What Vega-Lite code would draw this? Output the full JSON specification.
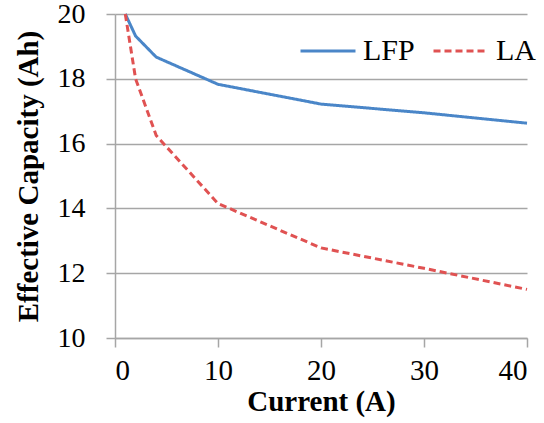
{
  "$schema": "https://vega.github.io/schema/vega-lite/v6.json",
  "width": 412,
  "height": 324,
  "autosize": {"type": "none"},
  "padding": {"left": 115, "top": 14, "right": 17, "bottom": 85},
  "background": "white",
  "config": {
    "view": {"stroke": null},
    "font": "Liberation Serif",
    "axis": {"labelFont": "Liberation Serif", "titleFont": "Liberation Serif"},
    "legend": {"labelFont": "Liberation Serif"}
  },
  "data": {
    "values": [
      {"current": 1, "capacity": 20.0, "series": "LFP"},
      {"current": 2, "capacity": 19.32, "series": "LFP"},
      {"current": 4, "capacity": 18.67, "series": "LFP"},
      {"current": 10, "capacity": 17.83, "series": "LFP"},
      {"current": 20, "capacity": 17.22, "series": "LFP"},
      {"current": 30, "capacity": 16.95, "series": "LFP"},
      {"current": 40, "capacity": 16.63, "series": "LFP"},
      {"current": 1, "capacity": 20.0, "series": "LA"},
      {"current": 2, "capacity": 18.0, "series": "LA"},
      {"current": 4, "capacity": 16.25, "series": "LA"},
      {"current": 10, "capacity": 14.15, "series": "LA"},
      {"current": 20, "capacity": 12.78, "series": "LA"},
      {"current": 30, "capacity": 12.15, "series": "LA"},
      {"current": 40, "capacity": 11.5, "series": "LA"}
    ]
  },
  "mark": {"type": "line", "strokeWidth": 3},
  "encoding": {
    "x": {
      "field": "current",
      "type": "quantitative",
      "scale": {"domain": [0, 40], "nice": false},
      "axis": {
        "values": [0, 10, 20, 30, 40],
        "title": "Current (A)",
        "titleFontSize": 29,
        "titleFontWeight": "bold",
        "titleColor": "black",
        "titlePadding": 2,
        "labelFontSize": 29,
        "labelColor": "black",
        "labelPadding": 9,
        "tickSize": 9,
        "tickColor": "#a6a6a6",
        "tickWidth": 1.5,
        "domainColor": "#a6a6a6",
        "domainWidth": 1.5,
        "grid": false
      }
    },
    "y": {
      "field": "capacity",
      "type": "quantitative",
      "scale": {"domain": [10, 20], "nice": false, "zero": false},
      "axis": {
        "values": [10, 12, 14, 16, 18, 20],
        "title": "Effective Capacity (Ah)",
        "titleFontSize": 29,
        "titleFontWeight": "bold",
        "titleColor": "black",
        "titlePadding": 14,
        "labelFontSize": 28,
        "labelColor": "black",
        "labelPadding": 21,
        "tickSize": 9,
        "tickColor": "#a6a6a6",
        "tickWidth": 1.5,
        "domainColor": "#a6a6a6",
        "domainWidth": 1.5,
        "grid": true,
        "gridColor": "#a6a6a6",
        "gridWidth": 1.5
      }
    },
    "color": {
      "field": "series",
      "type": "nominal",
      "scale": {"domain": ["LFP", "LA"], "range": ["#4a86c8", "#e05252"]},
      "legend": {
        "title": null,
        "orient": "none",
        "direction": "horizontal",
        "legendX": 184,
        "legendY": 8,
        "symbolType": "stroke",
        "symbolSize": 3025,
        "symbolStrokeWidth": 3,
        "labelFontSize": 30,
        "labelColor": "black",
        "labelOffset": 6,
        "columnPadding": 12
      }
    },
    "strokeDash": {
      "field": "series",
      "type": "nominal",
      "scale": {"domain": ["LFP", "LA"], "range": [[1, 0], [7, 4]]},
      "legend": {
        "title": null,
        "orient": "none",
        "direction": "horizontal",
        "legendX": 184,
        "legendY": 8,
        "symbolType": "stroke",
        "symbolSize": 3025,
        "symbolStrokeWidth": 3,
        "labelFontSize": 30,
        "labelColor": "black",
        "labelOffset": 6,
        "columnPadding": 12
      }
    }
  }
}
